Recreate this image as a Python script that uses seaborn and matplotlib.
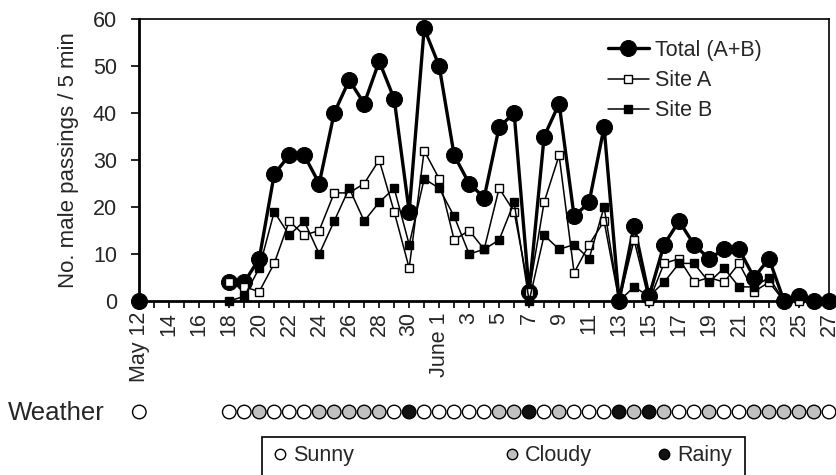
import numpy as np
import pandas as pd
import matplotlib
matplotlib.use("Agg")
import matplotlib.pyplot as plt
from matplotlib.lines import Line2D
from matplotlib.patches import Rectangle
import seaborn as sns

sns.set_theme(style="white")
plt.rcParams['font.family'] = ['Liberation Sans', 'DejaVu Sans']

# ---------------- data ----------------
first_date = "2009-05-12"
first_total = 0
first_weather = "Sunny"

dates_main = list(pd.date_range("2009-05-18", "2009-06-27").strftime("%Y-%m-%d"))
total = [4, 4, 9, 27, 31, 31, 25, 40, 47, 42, 51, 43, 19, 58,
         50, 31, 25, 22, 37, 40, 2, 35, 42, 18, 21, 37, 0, 16, 1, 12,
         17, 12, 9, 11, 11, 5, 9, 0, 1, 0, 0]
site_a = [4, 3, 2, 8, 17, 14, 15, 23, 23, 25, 30, 19, 7, 32,
          26, 13, 15, 11, 24, 19, 2, 21, 31, 6, 12, 17, 0, 13, 0, 8,
          9, 4, 5, 4, 8, 2, 4, 0, 0, 0, 0]
site_b = [0, 1, 7, 19, 14, 17, 10, 17, 24, 17, 21, 24, 12, 26,
          24, 18, 10, 11, 13, 21, 0, 14, 11, 12, 9, 20, 0, 3, 1, 4,
          8, 8, 4, 7, 3, 3, 5, 0, 1, 0, 0]
weather_main = ["Sunny", "Sunny", "Cloudy", "Sunny", "Sunny", "Sunny", "Cloudy",
                "Cloudy", "Cloudy", "Cloudy", "Cloudy", "Sunny", "Rainy", "Sunny",
                "Sunny", "Sunny", "Sunny", "Sunny", "Cloudy", "Cloudy", "Rainy",
                "Sunny", "Cloudy", "Sunny", "Sunny", "Sunny", "Rainy", "Cloudy",
                "Rainy", "Cloudy", "Sunny", "Sunny", "Cloudy", "Sunny", "Sunny",
                "Cloudy", "Cloudy", "Cloudy", "Cloudy", "Cloudy", "Sunny"]

weather_labels = ["Sunny", "Cloudy", "Rainy"]
weather_colors = {"Sunny": "white", "Cloudy": "#c0c0c0", "Rainy": "#111111"}
ytick_vals = [0, 10, 20, 30, 40, 50, 60]

# ---------------- frames ----------------
start = pd.Timestamp(first_date)
def to_day(ds):
    return [(pd.Timestamp(d) - start).days for d in ds]

df = pd.DataFrame({
    "day": to_day(dates_main),
    "Total (A+B)": total,
    "Site A": site_a,
    "Site B": site_b,
})
df_first = pd.DataFrame({"day": to_day([first_date]), "Total (A+B)": [first_total]})
wdf = pd.DataFrame({"day": to_day([first_date] + dates_main),
                    "weather": [first_weather] + weather_main})
wdf["y"] = 0

n_days = wdf["day"].max()
all_days = list(range(0, n_days + 1))
tick_labels = []
for d in all_days:
    dt = start + pd.Timedelta(days=d)
    if d % 2 == 0:
        if d == 0:
            tick_labels.append("May " + str(dt.day))
        elif dt.month == 6 and dt.day == 1:
            tick_labels.append("June 1")
        else:
            tick_labels.append(str(dt.day))
    else:
        tick_labels.append("")

# ---------------- figure ----------------
W, H = 836, 475
fig = plt.figure(figsize=(W / 100, H / 100), dpi=100)
left, right, top, bot = 139.3, 829.0, 19.0, 301.0
ax = fig.add_axes([left / W, 1 - bot / H, (right - left) / W, (bot - top) / H])

fs = 15.5
sns.lineplot(data=df, x="day", y="Total (A+B)", ax=ax, color="black", lw=2.4,
             marker="o", markersize=11.5, markerfacecolor="black",
             markeredgecolor="black", label="Total (A+B)", zorder=3)
sns.lineplot(data=df_first, x="day", y="Total (A+B)", ax=ax, color="black", lw=2.4,
             marker="o", markersize=11.5, markerfacecolor="black",
             markeredgecolor="black", zorder=3)
sns.lineplot(data=df, x="day", y="Site A", ax=ax, color="black", lw=1.1,
             marker="s", markersize=6, markerfacecolor="white",
             markeredgecolor="black", markeredgewidth=1.0, label="Site A", zorder=4)
sns.lineplot(data=df, x="day", y="Site B", ax=ax, color="black", lw=1.1,
             marker="s", markersize=6, markerfacecolor="black",
             markeredgecolor="black", markeredgewidth=1.0, label="Site B", zorder=5)

ax.set_xlim(0, n_days)
ax.set_ylim(0, 60)
ax.set_xticks(all_days)
ax.set_xticklabels(tick_labels, rotation=90, fontsize=fs)
ax.set_yticks(ytick_vals)
ax.set_yticklabels([str(v) for v in ytick_vals], fontsize=fs)
ax.tick_params(axis="x", direction="out", length=5, width=1.2, color="black",
               bottom=True, pad=3)
ax.tick_params(axis="y", direction="out", length=6, width=1.2, color="black",
               left=True, pad=10)
ax.set_xlabel("")
ax.set_ylabel("No. male passings / 5 min", fontsize=fs + 0.5, labelpad=10)
for s in ax.spines.values():
    s.set_visible(True)
    s.set_color("black")
    s.set_linewidth(1.2)
ax.spines["left"].set_linewidth(2.0)
ax.spines["bottom"].set_linewidth(2.0)
ax.grid(False)
for l in ax.lines:
    l.set_clip_on(False)

leg = ax.legend(loc="upper left", bbox_to_anchor=((608 - left) / (right - left), (bot - 40) / (bot - top)),
                frameon=False, fontsize=fs, handlelength=1.9, handletextpad=0.3,
                labelspacing=0.42, borderpad=0, borderaxespad=0)

# weather row
axw = fig.add_axes([left / W, 1 - 424 / H, (right - left) / W, 24 / H], sharex=ax)
sns.scatterplot(data=wdf, x="day", y="y", hue="weather", palette=weather_colors,
                edgecolor="black", linewidth=1.0, s=95, ax=axw, legend=False)
axw.set_ylim(-1, 1)
axw.set_xlim(0, n_days)
axw.axis("off")
for c in axw.collections:
    c.set_clip_on(False)

fig.text(8 / W, 1 - 413 / H, "Weather", fontsize=fs + 3, va="center", ha="left")

# weather key box
fig.add_artist(Rectangle((262 / W, -0.02), (745 - 262) / W, (475 - 437) / H + 0.02,
                         transform=fig.transFigure, fill=False, edgecolor="black",
                         linewidth=1.2))
key_centers = [280, 512, 664]
for lab, cx in zip(weather_labels, key_centers):
    h = Line2D([], [], ls="", marker="o", markersize=7.5, markerfacecolor=weather_colors[lab],
               markeredgecolor="black", markeredgewidth=1.0)
    fig.legend([h], [lab], loc="center left", bbox_to_anchor=((cx - 8.3) / W, 1 - 456 / H),
               frameon=False, fontsize=fs, handlelength=0.8, handletextpad=0.2,
               borderpad=0, borderaxespad=0)

fig.savefig("out.png", dpi=100)
